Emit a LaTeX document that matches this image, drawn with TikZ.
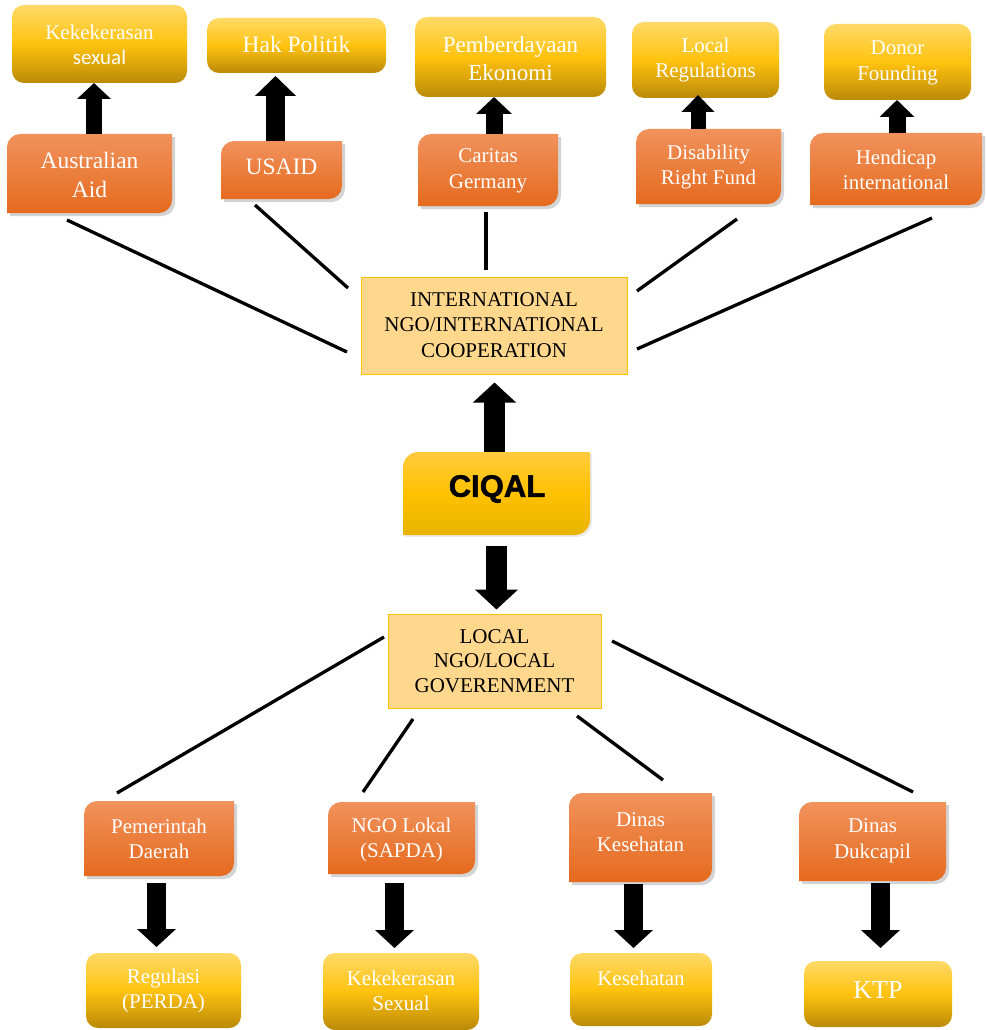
\documentclass[tikz,border=0pt]{standalone}
\usepackage{fontspec}
\setmainfont{Liberation Serif}
\newfontfamily\calibfont{Carlito}
\newfontfamily\headfont[BoldFeatures={FakeBold=1.6}]{Liberation Sans}
\usetikzlibrary{arrows.meta,shadows}
\definecolor{ortop}{RGB}{241,146,92}
\definecolor{orbot}{RGB}{229,106,30}
\definecolor{yetop}{RGB}{255,218,104}
\definecolor{yemid}{RGB}{255,194,14}
\definecolor{yebot}{RGB}{186,138,8}
\definecolor{pale}{RGB}{255,216,142}
\definecolor{paleedge}{RGB}{255,192,0}
\definecolor{cqtop}{RGB}{255,203,62}
\definecolor{cqmid}{RGB}{255,193,0}
\definecolor{cqbot}{RGB}{232,180,0}
\tikzset{
  orfill/.style={top color=ortop, bottom color=orbot,
    drop shadow={shadow xshift=3pt, shadow yshift=-3pt, opacity=0.3, fill=black!55}},
  yefill/.style={top color=yetop, bottom color=yebot, middle color=yemid},
  boxanchor/.style={inner sep=0pt, outer sep=0pt, draw=none},
  ortext/.style={text=white, align=center, inner sep=0pt},
  paletext/.style={text=black, align=center, inner sep=0pt},
  link/.style={line width=3.3pt, line cap=butt},
  arrL/.style={line width=21pt, -{Triangle[length=20pt,width=42pt]}},
  arrM/.style={line width=19pt, -{Triangle[length=18pt,width=38pt]}},
  arrS/.style={line width=16pt, -{Triangle[length=16pt,width=33pt]}},
}
% diagonal-rounded box: [font] name l t r b texty text
\newcommand{\orbox}[8][\fontsize{21}{25.5}\selectfont]{%
  \shade[orfill] (#3,{#4+13}) .. controls (#3,{#4+6}) and ({#3+6},#4) .. ({#3+13},#4) -- (#5,#4) -- (#5,{#6-13}) .. controls (#5,{#6-6}) and ({#5-6},#6) .. ({#5-13},#6) -- (#3,#6) -- cycle;
  \node[boxanchor, minimum width={#5-#3}, minimum height={#6-#4}] (#2) at ({(#3+#5)/2},{(#4+#6)/2}) {};
  \node[ortext, font=#1] (#2-t) at ({(#3+#5)/2},#7) {#8};
}
\newcommand{\yebox}[8][\fontsize{21}{25.5}\selectfont]{%
  \shade[yefill, rounded corners=12pt] (#3,#4) rectangle (#5,#6);
  \node[boxanchor, minimum width={#5-#3}, minimum height={#6-#4}] (#2) at ({(#3+#5)/2},{(#4+#6)/2}) {};
  \node[ortext, font=#1] (#2-t) at ({(#3+#5)/2},#7) {#8};
}
\begin{document}
\begin{tikzpicture}[x=1pt,y=-1pt]
\useasboundingbox (0,0) rectangle (987,1030);
\fill[white] (0,0) rectangle (987,1030);

% ---- top results
\yebox{kekA}{12}{5}{187}{83}{45}{Kekekerasan\\[-1pt]{\calibfont sexual}}
\yebox[\fontsize{23.5}{28}\selectfont]{hak}{207}{18}{386}{73}{44}{Hak Politik}
\yebox[\fontsize{23}{28}\selectfont]{pem}{415}{17}{606}{97}{59}{Pemberdayaan\\Ekonomi}
\yebox{locreg}{632}{22}{779}{98}{60}{Local\\Regulations}
\yebox{donor}{824}{24}{971}{100}{63}{Donor\\Founding}

% ---- international donors
\orbox[\fontsize{23.5}{28.5}\selectfont]{aus}{7}{134}{172}{213}{175}{Australian\\Aid}
\orbox[\fontsize{23.5}{28}\selectfont]{usaid}{221}{141}{342}{199}{167}{USAID}
\orbox{caritas}{418}{134}{558}{206}{171}{Caritas\\Germany}
\orbox{disab}{636}{129}{781}{204}{167}{Disability\\Right Fund}
\orbox{hend}{810}{133}{982}{205}{170}{Hendicap\\international}

% ---- middle
\node[draw=paleedge, line width=1pt, fill=pale, minimum width=266pt, minimum height=97pt, inner sep=0pt] (intl) at (494,325.5) {};
\node[paletext, font=\fontsize{21}{25.5}\selectfont] (intl-t) at (494,325) {INTERNATIONAL\\NGO/INTERNATIONAL\\COOPERATION};

\shade[top color=cqtop, bottom color=cqbot, middle color=cqmid, drop shadow={shadow xshift=2pt, shadow yshift=-2pt, opacity=0.2, fill=black!40}]
  (403,{452+15}) .. controls (403,{452+7}) and ({403+7},452) .. ({403+15},452) -- (590,452) -- (590,{535-15}) .. controls (590,{535-7}) and ({590-7},535) .. ({590-15},535) -- (403,535) -- cycle;
\node[boxanchor, minimum width=187pt, minimum height=83pt] (ciqal) at (496.5,493.5) {};
\node[text=black, inner sep=0pt, font=\headfont\bfseries\fontsize{31}{36}\selectfont] (ciqal-t) at (497,489) {CIQAL};

\node[draw=paleedge, line width=1pt, fill=pale, minimum width=213pt, minimum height=94pt, inner sep=0pt] (local) at (494.5,661) {};
\node[paletext, font=\fontsize{21}{24.5}\selectfont] (local-t) at (494.5,661) {LOCAL\\NGO/LOCAL\\GOVERENMENT};

% ---- local actors
\orbox{pd}{84}{801}{234}{876}{839}{Pemerintah\\Daerah}
\orbox{ngo}{328}{802}{475}{874}{840}{NGO Lokal\\(SAPDA)}
\orbox{dk}{569}{793}{712}{882}{832}{Dinas\\Kesehatan}
\orbox{dd}{799}{802}{946}{881}{841}{Dinas\\Dukcapil}

% ---- bottom results
\yebox{reg}{86}{953}{241}{1028}{991}{Regulasi\\(PERDA)}
\yebox{kekB}{323}{953}{479}{1030}{991}{Kekekerasan\\Sexual}
\yebox{kes}{570}{953}{712}{1026}{978}{Kesehatan}
\yebox[\fontsize{26}{30}\selectfont]{ktp}{804}{961}{952}{1027}{990}{KTP}

% ---- connector end points
\coordinate (la1) at (67,220);   \coordinate (la2) at (347,352);
\coordinate (lb1) at (255,205);  \coordinate (lb2) at (348,288);
\coordinate (lc1) at (486,212);  \coordinate (lc2) at (486,270);
\coordinate (ld1) at (737,219);  \coordinate (ld2) at (637,291);
\coordinate (le1) at (932,218);  \coordinate (le2) at (637,349);
\coordinate (lf1) at (384,637);  \coordinate (lf2) at (117,793);
\coordinate (lg1) at (413,719);  \coordinate (lg2) at (363,792);
\coordinate (lh1) at (577,716);  \coordinate (lh2) at (663,780);
\coordinate (li1) at (612,641);  \coordinate (li2) at (913,792);

\draw[link] (la1) -- (la2);
\draw[link] (lb1) -- (lb2);
\draw[link] (lc1) -- (lc2);
\draw[link] (ld1) -- (ld2);
\draw[link] (le1) -- (le2);
\draw[link] (lf1) -- (lf2);
\draw[link] (lg1) -- (lg2);
\draw[link] (lh1) -- (lh2);
\draw[link] (li1) -- (li2);

% ---- block arrows
\draw[arrS] ([xshift=4.5pt]aus.north) -- ([xshift=4.5pt]aus.north |- kekA.south);
\draw[line width=19pt, -{Triangle[length=20pt,width=40pt]}, shorten >=3pt] ([xshift=-6pt]usaid.north) -- ([xshift=-6pt]usaid.north |- hak.south);
\draw[line width=17pt, -{Triangle[length=17pt,width=35pt]}] ([xshift=6pt]caritas.north) -- ([xshift=6pt]caritas.north |- pem.south);
\draw[line width=15pt, -{Triangle[length=17pt,width=32pt]}, shorten >=-3pt] ([xshift=-10.5pt]disab.north) -- ([xshift=-10.5pt]disab.north |- locreg.south);
\draw[line width=17pt, -{Triangle[length=17pt,width=34pt]}] ([xshift=1pt]hend.north) -- ([xshift=1pt]hend.north |- donor.south);

\draw[arrL, shorten >=8pt] ([xshift=-2pt]ciqal.north) -- ([xshift=-2pt]ciqal.north |- intl.south);
\draw[arrL, shorten <=11pt, shorten >=4pt] (ciqal.south) -- (ciqal.south |- local.north);

\draw[arrM, shorten <=7pt, shorten >=6pt] ([xshift=-2.5pt]pd.south) -- ([xshift=-2.5pt]pd.south |- reg.north);
\draw[arrM, shorten <=9pt, shorten >=5pt] ([xshift=-7pt]ngo.south) -- ([xshift=-7pt]ngo.south |- kekB.north);
\draw[arrM, shorten <=2pt, shorten >=5pt] ([xshift=-7pt]dk.south) -- ([xshift=-7pt]dk.south |- kes.north);
\draw[arrM, shorten <=2pt, shorten >=13pt] ([xshift=8pt]dd.south) -- ([xshift=8pt]dd.south |- ktp.north);
\end{tikzpicture}
\end{document}
